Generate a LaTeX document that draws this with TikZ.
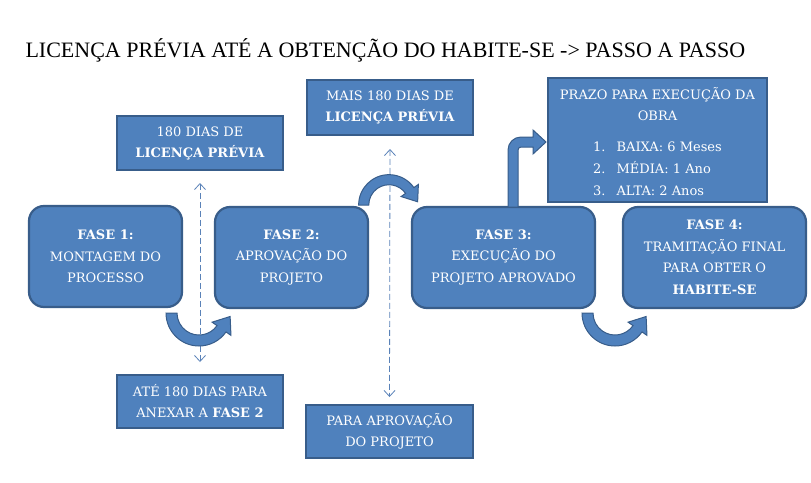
\documentclass[tikz,border=0pt]{standalone}
\usepackage{fontspec}
\setmainfont{DejaVu Serif}
\newfontfamily\titlefont{Liberation Serif}
\usetikzlibrary{arrows.meta,calc}
\definecolor{boxblue}{HTML}{4F81BD}
\definecolor{boxedge}{HTML}{385D8A}
\definecolor{dashblue}{HTML}{5A82B8}
\tikzset{
  phase/.style={rectangle,rounded corners=15pt,draw=boxedge,line width=2.2pt,fill=boxblue,text=white,align=center,font=\fontsize{13}{21.5}\selectfont},
  infobox/.style={rectangle,draw=boxedge,line width=2pt,fill=boxblue,text=white,align=center,font=\fontsize{13}{21}\selectfont},
  blockarrow/.style={fill=boxblue,draw=boxedge,line width=1pt},
  timeline/.style={draw=dashblue,line width=0.8pt,dash pattern=on 6pt off 3pt,{Straight Barb[length=6pt,width=11pt]}-{Straight Barb[length=6pt,width=11pt]}},
  uturn/.pic={
    \path[blockarrow] (180:33) arc[start angle=180,end angle=35,radius=33] -- (35:39)
      -- ($(35:27.5)+(-55:15)$) -- (35:16) -- (35:22) arc[start angle=35,end angle=180,radius=22] -- cycle;
  }
}
\begin{document}
\begin{tikzpicture}[x=1pt,y=-1pt]
  \useasboundingbox (0,0) rectangle (811,482);

  \node[anchor=base west,font=\titlefont\fontsize{22}{25}\selectfont] (title) at (22,57) {LICENÇA PRÉVIA ATÉ A OBTENÇÃO DO HABITE-SE -> PASSO A PASSO};

  % phases
  \node[phase,minimum width=153pt,minimum height=101pt] (f1) at (105.5,256.5) {\textbf{FASE 1:}\\MONTAGEM DO\\PROCESSO};
  \node[phase,minimum width=153pt,minimum height=101pt] (f2) at (291.5,257.5) {\textbf{FASE 2:}\\APROVAÇÃO DO\\PROJETO};
  \node[phase,minimum width=183pt,minimum height=101pt] (f3) at (503.5,257.5) {\textbf{FASE 3:}\\EXECUÇÃO DO\\PROJETO APROVADO};
  \node[phase,minimum width=183pt,minimum height=101pt] (f4) at (714.5,257.5) {\textbf{FASE 4:}\\TRAMITAÇÃO FINAL\\PARA OBTER O\\\textbf{HABITE-SE}};

  % notes
  \node[infobox,minimum width=166pt,minimum height=54pt] (lp1) at (200,143) {180 DIAS DE\\\textbf{LICENÇA PRÉVIA}};
  \node[infobox,minimum width=166pt,minimum height=55pt] (lp2) at (390,107.5) {MAIS 180 DIAS DE\\\textbf{LICENÇA PRÉVIA}};
  \node[infobox,minimum width=166pt,minimum height=53pt] (ate) at (200,401.5) {ATÉ 180 DIAS PARA\\ANEXAR A \textbf{FASE 2}};
  \node[infobox,minimum width=167pt,minimum height=53pt] (apr) at (389.5,431.5) {PARA APROVAÇÃO\\DO PROJETO};
  \node[infobox,inner ysep=0pt,minimum width=219pt,minimum height=124pt] (prazo) at (657.5,140) {\rule{0pt}{22pt}PRAZO PARA EXECUÇÃO DA\\OBRA\\[14pt]
    \renewcommand\arraystretch{1.05}\begin{tabular}{@{}l@{\hspace{11pt}}l@{}}1.&BAIXA: 6 Meses\\2.&MÉDIA: 1 Ano\\3.&ALTA: 2 Anos\end{tabular}\hspace{32pt}};

  % time spans
  \draw[timeline,shorten <=12pt,shorten >=12pt] (lp1.south) -- (ate.north);
  \draw[timeline,shorten <=13pt,shorten >=7pt] (lp2.south) -- (apr.north);

  % block arrows
  \pic at (199,313) {uturn};
  \pic[yscale=-0.92,xscale=0.92] at (389,205) {uturn};
  \pic at (615,313) {uturn};
  \path[blockarrow] (508,207) -- (508,150) arc[start angle=180,end angle=270,radius=13]
    -- (533,137) -- (533,130) -- (546,142) -- (533,154) -- (533,147) -- (521,147)
    arc[start angle=270,end angle=180,radius=3] -- (518,207) -- cycle;
\end{tikzpicture}
\end{document}
